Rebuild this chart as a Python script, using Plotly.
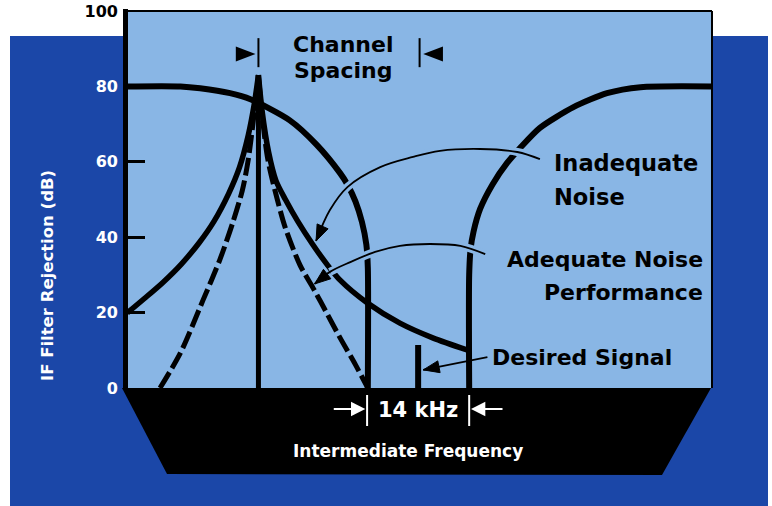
import math
import plotly.graph_objects as go

# ---- data: frequency offset from the desired channel (kHz) and rejection (dB) ----
DESIRED_KHZ = 0.0
DESIRED_DB = 11.4
INTERFERER_KHZ = -21.9
INTERFERER_DB = 83.0
IF_HALF_BW_KHZ = 7.0          # IF filter edges at +/- 7 kHz -> 14 kHz

# IF filter selectivity curve, lower and upper skirts
FILTER_LEFT_KHZ = [-40.2, -32.6, -29.9, -25.8, -23.0, -17.6, -13.9, -10.7, -9.7, -8.6, -7.7, -7.1, -6.9, -6.9]
FILTER_LEFT_DB = [80.0, 80.0, 79.5, 78.2, 76.6, 71.0, 64.5, 57.0, 54.0, 49.5, 44.0, 38.0, 32.0, 0.0]
FILTER_RIGHT_KHZ = [7.0, 7.0, 7.2, 7.6, 8.5, 10.2, 12.2, 14.0, 16.7, 21.3, 25.9, 30.5, 40.3]
FILTER_RIGHT_DB = [0.0, 30.0, 37.0, 41.5, 47.5, 54.0, 59.7, 63.7, 69.0, 74.5, 78.2, 79.8, 80.0]

# interferer with inadequate phase-noise performance (solid)
NOISY_LEFT_KHZ = [-39.9, -37.5, -35.0, -32.5, -30.0, -28.0, -26.0, -24.5, -23.3, -22.5, -21.9]
NOISY_LEFT_DB = [19.9, 23.8, 28.0, 32.8, 38.6, 44.2, 51.5, 58.5, 67.0, 75.0, 83.0]
NOISY_RIGHT_KHZ = [-21.9, -21.4, -20.5, -19.5, -18.2, -16.5, -14.5, -12.5, -10.7, -7.0, -2.5, 2.0, 6.7]
NOISY_RIGHT_DB = [83.0, 73.5, 62.5, 55.0, 50.0, 44.2, 38.2, 32.8, 28.6, 22.6, 17.2, 13.3, 10.1]

# interferer with adequate phase-noise performance (dashed)
CLEAN_LEFT_KHZ = [-35.4, -32.6, -29.5, -27.2, -25.4, -24.1, -23.3, -22.6, -21.9]
CLEAN_LEFT_DB = [0.0, 9.3, 23.3, 34.0, 44.0, 52.5, 60.5, 71.0, 83.0]
CLEAN_RIGHT_KHZ = [-21.9, -21.4, -20.6, -19.3, -18.2, -16.2, -14.4, -13.4, -10.7, -8.6, -6.9]
CLEAN_RIGHT_DB = [83.0, 72.4, 60.5, 49.9, 42.4, 32.6, 26.5, 23.0, 13.3, 6.2, 0.0]

Y_TICKS = [0, 20, 40, 60, 80, 100]
Y_TICK_TEXT = ["0", "20", "40", "60", "80", "<span style='color:#000000'>100</span>"]

# ---- callout guide paths (kHz, dB), last point is the arrow tip ----
ARROW_INADEQUATE = ([16.7, 13.6, 8.5, 3.0, -0.7, -5.2, -9.7, -12.1, -14.0],
                    [60.7, 62.6, 63.4, 62.9, 61.3, 58.6, 53.3, 47.2, 39.0])
ARROW_ADEQUATE = ([9.2, 5.8, 1.6, -2.5, -5.9, -9.3, -12.1, -14.2],
                  [35.5, 37.7, 38.2, 37.7, 36.1, 33.4, 30.8, 27.6])
ARROW_DESIRED = ([9.5, 0.7], [8.2, 4.8])

# ---- layout geometry ----
W, H = 772, 506
PLOT_L, PLOT_R, PLOT_T, PLOT_B = 125, 712, 11, 388
X_RANGE = [-40.2, 40.3]
Y_RANGE = [0, 100]

DARK_BLUE = "#1b47a8"
LIGHT_BLUE = "#89b6e5"
FONT = "DejaVu Sans"


def pxx(p):
    return (p - PLOT_L) / (PLOT_R - PLOT_L)


def pxy(p):
    return (PLOT_B - p) / (PLOT_B - PLOT_T)


def kx(k):
    return (k - X_RANGE[0]) / (X_RANGE[1] - X_RANGE[0])


# data <-> screen pixel helpers (used for arrowhead geometry)
def to_px(x, y):
    return (PLOT_L + kx(x) * (PLOT_R - PLOT_L),
            PLOT_B - (y - Y_RANGE[0]) / (Y_RANGE[1] - Y_RANGE[0]) * (PLOT_B - PLOT_T))


def to_data(px, py):
    return (X_RANGE[0] + (px - PLOT_L) / (PLOT_R - PLOT_L) * (X_RANGE[1] - X_RANGE[0]),
            Y_RANGE[0] + (PLOT_B - py) / (PLOT_B - PLOT_T) * (Y_RANGE[1] - Y_RANGE[0]))


fig = go.Figure()


def curve(x, y, width, dash="solid", color="black", smoothing=0.8):
    fig.add_trace(go.Scatter(
        x=x, y=y, mode="lines", hoverinfo="skip", showlegend=False,
        line=dict(color=color, width=width, dash=dash, shape="spline", smoothing=smoothing),
    ))


# filter skirts
curve(FILTER_LEFT_KHZ, FILTER_LEFT_DB, 6, smoothing=0.7)
curve(FILTER_RIGHT_KHZ, FILTER_RIGHT_DB, 6, smoothing=0.7)

# interferer carrier
fig.add_trace(go.Scatter(
    x=[INTERFERER_KHZ, INTERFERER_KHZ], y=[0, INTERFERER_DB], mode="lines",
    hoverinfo="skip", showlegend=False, line=dict(color="black", width=5),
))
# interferer noise skirts
curve(NOISY_LEFT_KHZ, NOISY_LEFT_DB, 5.5)
curve(NOISY_RIGHT_KHZ, NOISY_RIGHT_DB, 5.5)
curve(CLEAN_LEFT_KHZ, CLEAN_LEFT_DB, 5, dash="18px,5px")
curve(CLEAN_RIGHT_KHZ, CLEAN_RIGHT_DB, 5, dash="18px,5px")

# desired signal
fig.add_trace(go.Scatter(
    x=[DESIRED_KHZ, DESIRED_KHZ], y=[0, DESIRED_DB], mode="lines",
    hoverinfo="skip", showlegend=False, line=dict(color="black", width=6),
))

arrowheads = []


# callout arrows: a light halo under a thin black line, filled head at the tip
def callout(path, spline=True, head_len=16.0, head_half=6.0):
    xs, ys = path
    shape = "spline" if spline else "linear"
    fig.add_trace(go.Scatter(
        x=xs[:-1], y=ys[:-1], mode="lines", hoverinfo="skip", showlegend=False,
        line=dict(color=LIGHT_BLUE, width=8, shape=shape),
    ))
    fig.add_trace(go.Scatter(
        x=xs, y=ys, mode="lines", hoverinfo="skip", showlegend=False,
        line=dict(color="black", width=1.8, shape=shape),
    ))
    tx, ty = to_px(xs[-1], ys[-1])
    sx, sy = to_px(xs[-2], ys[-2])
    d = math.hypot(tx - sx, ty - sy)
    ux, uy = (tx - sx) / d, (ty - sy) / d
    bx, by = tx - ux * head_len, ty - uy * head_len
    p1 = to_data(bx - uy * head_half, by + ux * head_half)
    p2 = to_data(bx + uy * head_half, by - ux * head_half)
    arrowheads.append(dict(
        type="path", xref="x", yref="y",
        path=f"M{xs[-1]},{ys[-1]} L{p1[0]},{p1[1]} L{p2[0]},{p2[1]} Z",
        fillcolor="black", line=dict(color="black", width=1),
    ))


callout(ARROW_INADEQUATE)
callout(ARROW_ADEQUATE)
callout(ARROW_DESIRED, spline=False)

shapes = [
    # dark blue panel, light blue plot field, black frequency band
    dict(type="rect", xref="paper", yref="paper", x0=pxx(10), x1=pxx(768), y0=pxy(506), y1=pxy(36),
         fillcolor=DARK_BLUE, line=dict(width=0), layer="below"),
    dict(type="rect", xref="paper", yref="paper", x0=0, x1=1, y0=0, y1=1,
         fillcolor=LIGHT_BLUE, line=dict(width=0), layer="below"),
    dict(type="path", xref="paper", yref="paper",
         path=f"M{pxx(122)},{pxy(388)} L{pxx(711)},{pxy(388)} L{pxx(662)},{pxy(475)} L{pxx(167)},{pxy(474)} Z",
         fillcolor="black", line=dict(width=0), layer="below"),
    # frame
    dict(type="line", xref="paper", yref="paper", x0=0, x1=1, y0=1, y1=1,
         line=dict(color="black", width=2)),
    dict(type="line", xref="paper", yref="paper", x0=1, x1=1, y0=0, y1=1,
         line=dict(color="black", width=2)),
    dict(type="line", xref="paper", yref="paper", x0=pxx(125.5), x1=pxx(125.5), y0=pxy(388), y1=pxy(9),
         line=dict(color="black", width=5)),
] + arrowheads

# channel spacing markers
for bar_x in (INTERFERER_KHZ, DESIRED_KHZ + 0.2):
    shapes.append(dict(type="line", xref="x", yref="y", x0=bar_x, x1=bar_x, y0=85.1, y1=92.8,
                       line=dict(color="black", width=2)))
lt, lb = INTERFERER_KHZ - 0.4, INTERFERER_KHZ - 3.1
rt, rb = DESIRED_KHZ + 0.7, DESIRED_KHZ + 3.4
shapes.append(dict(type="path", xref="x", yref="y",
                   path=f"M{lb},90.6 L{lt},88.6 L{lb},86.6 Z", fillcolor="black", line=dict(width=0)))
shapes.append(dict(type="path", xref="x", yref="y",
                   path=f"M{rb},90.6 L{rt},88.6 L{rb},86.6 Z", fillcolor="black", line=dict(width=0)))

# 14 kHz bandwidth bars
for edge in (-IF_HALF_BW_KHZ, IF_HALF_BW_KHZ):
    shapes.append(dict(type="line", xref="paper", yref="paper", x0=kx(edge), x1=kx(edge),
                       y0=pxy(395), y1=pxy(426), line=dict(color="white", width=2)))

bold = dict(family=FONT, weight="bold")


def label(text, x, y, size, color="black", xanchor="center", xref="x", yref="y", angle=0):
    return dict(text=text, x=x, y=y, xref=xref, yref=yref, showarrow=False,
                xanchor=xanchor, yanchor="middle", textangle=angle,
                font=dict(size=size, color=color, **bold))


annotations = [
    label("Channel", -10.3, 91.0, 22),
    label("Spacing", -10.3, 84.2, 22),
    label("Inadequate", 18.4, 59.6, 22.5, xanchor="left"),
    label("Noise", 18.4, 50.6, 22.5, xanchor="left"),
    label("Adequate Noise", 39.4, 34.2, 22, xanchor="right"),
    label("Performance", 39.4, 25.4, 22, xanchor="right"),
    label("Desired Signal", 9.8, 8.0, 22, xanchor="left"),
    label("14 kHz", DESIRED_KHZ, pxy(410), 21, color="white", xref="x", yref="paper"),
    label("Intermediate Frequency", pxx(408), pxy(451), 17, color="white", xref="paper", yref="paper"),
    label("IF Filter Rejection (dB)", pxx(47), pxy(276), 16.5, color="white",
          xref="paper", yref="paper", angle=-90),
]

# bandwidth arrows pointing at the filter edges
for edge, ax in ((-IF_HALF_BW_KHZ, -33), (IF_HALF_BW_KHZ, 33)):
    annotations.append(dict(
        x=edge + (-0.25 if edge < 0 else 0.25), y=pxy(409), xref="x", yref="paper",
        ax=ax, ay=0, text="", showarrow=True, arrowhead=2, arrowsize=1.3,
        arrowwidth=2.2, arrowcolor="white", standoff=0,
    ))

fig.update_layout(
    width=W, height=H,
    margin=dict(l=PLOT_L, r=W - PLOT_R, t=PLOT_T, b=H - PLOT_B, pad=0, autoexpand=False),
    paper_bgcolor="white",
    plot_bgcolor="rgba(0,0,0,0)",
    shapes=shapes,
    annotations=annotations,
    xaxis=dict(range=X_RANGE, visible=False, fixedrange=True, automargin=False),
    yaxis=dict(
        range=Y_RANGE, fixedrange=True, showgrid=False, zeroline=False, showline=False,
        automargin=False,
        tickvals=Y_TICKS, ticktext=Y_TICK_TEXT,
        ticks="inside", ticklen=20, tickwidth=3, tickcolor="black",
        ticklabelstandoff=6,
        tickfont=dict(size=16, color="white", **bold),
    ),
)

fig.write_html("out.html")
